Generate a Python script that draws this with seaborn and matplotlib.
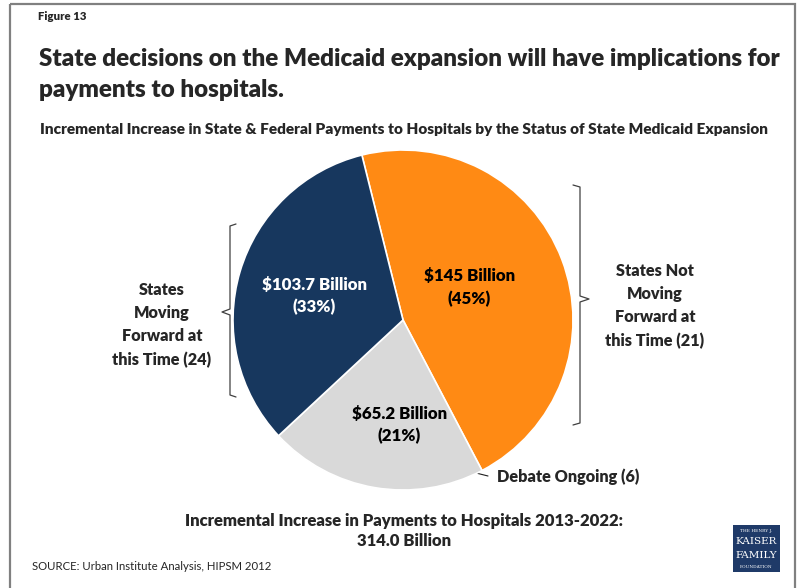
import matplotlib
matplotlib.use("Agg")
import matplotlib.pyplot as plt
from matplotlib.patches import Rectangle
import seaborn as sns

# -- Data -----------------------------------------------------
groups = ["States Not Moving Forward", "Debate Ongoing", "States Moving Forward"]
payments = [145.0, 65.2, 103.7]          # $ billion, 2013-2022
pct_labels = ["45%", "21%", "33%"]
slice_labels = ["$145 Billion", "$65.2 Billion", "$103.7 Billion"]
colors = ["#FF8A14", "#D9D9D9", "#17375E"]
text_colors = ["#000000", "#000000", "#FFFFFF"]

sns.set_theme(style="white")
plt.rcParams["font.family"] = ["Lato", "DejaVu Sans"]
BOLD = "heavy"

W, H = 801, 588
fig = plt.figure(figsize=(W / 100, H / 100), dpi=100)
fig.patch.set_facecolor("white")

# overlay axes in pixel coordinates for annotations
ov = fig.add_axes([0, 0, 1, 1])
ov.set_xlim(0, W)
ov.set_ylim(H, 0)
ov.axis("off")

# -- Pie ------------------------------------------------------
cx, cy, r = 403, 320, 170
pax = fig.add_axes([(cx - r) / W, (H - cy - r) / H, 2 * r / W, 2 * r / H])
wedges, _ = pax.pie(payments, colors=colors, startangle=104, counterclock=False,
                    radius=1.0, wedgeprops=dict(edgecolor="white", linewidth=1.2))
pax.set_xlim(-1, 1)
pax.set_ylim(-1, 1)
pax.set_aspect("equal")
pax.axis("off")

label_pos = [(0.39, 0.19), (-0.02, -0.62), (-0.52, 0.14)]
for (lx, ly), s, p, tc in zip(label_pos, slice_labels, pct_labels, text_colors):
    pax.text(lx, ly, f"{s}\n({p})", ha="center", va="center", fontsize=12.2,
             fontweight=BOLD, color=tc, linespacing=1.45)

# -- Frame ----------------------------------------------------
ov.add_patch(Rectangle((10, 4), 785, 600, fill=False, edgecolor="#808080",
                       linewidth=1.6, clip_on=False))

# -- Titles ---------------------------------------------------
ov.text(38, 16, "Figure 13", fontsize=8.2, fontweight=BOLD, va="center")
ov.text(39, 59, "State decisions on the Medicaid expansion will have implications for",
        fontsize=17.4, fontweight=BOLD, va="center")
ov.text(39, 90, "payments to hospitals.", fontsize=17.4, fontweight=BOLD, va="center")
ov.text(404, 129, "Incremental Increase in State & Federal Payments to Hospitals by the "
        "Status of State Medicaid Expansion", fontsize=11.1, fontweight=BOLD,
        ha="center", va="center")

# -- Side labels with brackets ---------------------------------
ov.text(162, 325, "States\nMoving\nForward at\nthis Time (24)", fontsize=11.7,
        fontweight=BOLD, ha="center", va="center", linespacing=1.55)
ov.text(655, 306, "States Not\nMoving\nForward at\nthis Time (21)", fontsize=11.7,
        fontweight=BOLD, ha="center", va="center", linespacing=1.55)

bk = dict(color="#404040", linewidth=0.9)
# left bracket
ov.plot([236, 230, 230, 222, 230, 230, 236],
        [224, 226, 309, 312, 315, 395, 397], **bk)
# right bracket
ov.plot([573, 580, 580, 589, 580, 580, 573],
        [185, 187, 296, 299, 302, 423, 425], **bk)

# Debate Ongoing label
ov.plot([472, 488], [472, 476], color="#202020", linewidth=0.8)
ov.text(497, 477, "Debate Ongoing (6)", fontsize=11.7, fontweight=BOLD, va="center")

# -- Footer ---------------------------------------------------
ov.text(404, 531, "Incremental Increase in Payments to Hospitals 2013-2022:\n"
        "314.0 Billion", fontsize=12, fontweight=BOLD, ha="center",
        va="center", linespacing=1.3)
ov.text(32, 566, "SOURCE: Urban Institute Analysis, HIPSM 2012", fontsize=8.2,
        va="center")

# logo
ov.add_patch(Rectangle((733, 525), 47, 47, facecolor="#1F3A68", edgecolor="none"))
ov.text(756.5, 531, "THE HENRY J.", fontsize=3.2, color="white", ha="center",
        va="center", family="DejaVu Serif")
ov.text(756.5, 542, "KAISER", fontsize=7.5, color="white", ha="center",
        va="center", family="DejaVu Serif")
ov.text(756.5, 556, "FAMILY", fontsize=7.5, color="white", ha="center",
        va="center", family="DejaVu Serif")
ov.text(756.5, 567, "FOUNDATION", fontsize=3.2, color="white", ha="center",
        va="center", family="DejaVu Serif")

fig.savefig("out.png", dpi=100)
